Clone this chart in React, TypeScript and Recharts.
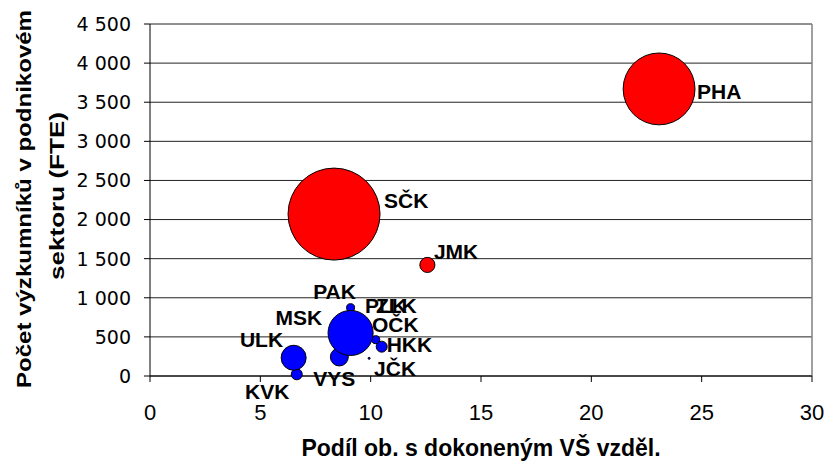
import React from 'react';
import { ScatterChart, Scatter, XAxis, YAxis, ZAxis, CartesianGrid, ReferenceLine, Label } from 'recharts';

// Red series (regions with large business R&D)
const redRegions = ['JMK', 'PHA', 'SČK'];
const redShare = [12.57, 23.07, 8.34];
const redResearchers = [1420, 3670, 2070];
const redSize = [2.7, 61, 100];

// Blue series (other regions), smaller bubbles drawn first
const blueRegions = ['JČK', 'PLK', 'ZLK', 'PAK', 'OČK', 'KVK', 'HKK', 'VYS', 'ULK', 'MSK'];
const blueShare = [9.93, 9.3, 9.5, 9.09, 10.23, 6.65, 10.5, 8.58, 6.51, 9.09];
const blueResearchers = [226, 650, 600, 873, 464, 22, 375, 243, 233, 550];
const blueSize = [0.05, 0.43, 0.43, 0.76, 0.76, 1.43, 1.43, 3.8, 7.4, 24];

const xTicks = [0, 5, 10, 15, 20, 25, 30];
const yTicks = [0, 500, 1000, 1500, 2000, 2500, 3000, 3500, 4000, 4500];

const xTitle = 'Podíl ob. s dokoneným VŠ vzděl.';
const yTitleLines = ['Počet výzkumníků v podnikovém', 'sektoru (FTE)'];

// label placement relative to bubble centre: [dx to text start, dy to baseline]
const labelOffsets: Record<string, [number, number]> = {
  PHA: [38, 10],
  'SČK': [50, -6],
  JMK: [6.5, -6],
  PAK: [-37.4, -8.7],
  PLK: [9.8, -12.2],
  ZLK: [16.3, -16.1],
  MSK: [-75, -8],
  'OČK': [-3.7, -7.7],
  HKK: [5, 5],
  'JČK': [5, 17.7],
  VYS: [-26, 29],
  ULK: [-53.7, -10.8],
  KVK: [-51.7, 25.2],
};

const build = (names: string[], xs: number[], ys: number[], zs: number[]) =>
  names.map((name, i) => ({ name, x: xs[i], y: ys[i], z: zs[i] }));

const redData = build(redRegions, redShare, redResearchers, redSize);
const blueData = build(blueRegions, blueShare, blueResearchers, blueSize);
const allData = [...blueData, ...redData];

const FONT = '"Liberation Sans", Arial, sans-serif';

const bubble = (color: string) => (props: any) => {
  const { cx, cy, width } = props;
  const r = Math.max((width || 0) / 2, 0.8);
  return <circle cx={cx} cy={cy} r={r} fill={color} stroke="#000" strokeWidth={1} />;
};

const labelShape = (props: any) => {
  const { cx, cy } = props;
  const name = props.payload?.name ?? props.name;
  const off = labelOffsets[name] || [0, 0];
  return (
    <text x={cx + off[0]} y={cy + off[1]} fontFamily={FONT} fontWeight="bold" fontSize={21} fill="#000">
      {name}
    </text>
  );
};

const XTick = (props: any) => {
  const { x, y, payload } = props;
  return (
    <text x={x} y={y} dy="0.71em" textAnchor="middle" fontFamily={FONT} fontSize={22} fill="#000">
      {payload.value}
    </text>
  );
};

const fmt = (v: number) => (v >= 1000 ? `${Math.floor(v / 1000)} ${String(v % 1000).padStart(3, '0')}` : String(v));

const YTick = (props: any) => {
  const { x, y, payload } = props;
  return (
    <text x={x} y={y} dy="0.36em" textAnchor="end" fontFamily='"DejaVu Sans", sans-serif' fontSize={19} fill="#000">
      {fmt(payload.value)}
    </text>
  );
};

export default function App() {
  return (
    <div style={{ position: 'absolute', left: 0, top: 0, width: 829, height: 462, background: '#fff' }}>
      <ScatterChart width={829} height={462} margin={{ top: 24, right: 17, bottom: 46, left: 90 }}>
        <CartesianGrid horizontal vertical={false} stroke="#222" strokeWidth={1} />
        <ReferenceLine x={30} stroke="#808080" strokeWidth={1.5} />
        <XAxis
          type="number"
          dataKey="x"
          domain={[0, 30]}
          ticks={xTicks}
          height={40}
          tickSize={6}
          tickMargin={22}
          axisLine={{ stroke: '#000' }}
          tickLine={{ stroke: '#000' }}
          tick={<XTick />}
          interval={0}
        >
          <Label
            content={(p: any) => {
              const vb = p.viewBox || {};
              return (
                <text x={vb.x + vb.width / 2} y={456} textAnchor="middle" fontFamily={FONT} fontWeight="bold" fontSize={23} fill="#000">
                  {xTitle}
                </text>
              );
            }}
          />
        </XAxis>
        <YAxis
          type="number"
          dataKey="y"
          domain={[0, 4500]}
          ticks={yTicks}
          width={60}
          tickSize={6}
          tickMargin={13}
          axisLine={{ stroke: '#000' }}
          tickLine={{ stroke: '#000' }}
          tick={<YTick />}
          interval={0}
        >
          <Label
            content={(p: any) => {
              const vb = p.viewBox || {};
              const cy = vb.y + vb.height / 2 - 1;
              return (
                <g>
                  <text transform={`translate(31,${cy}) rotate(-90)`} textAnchor="middle" fontFamily={FONT} fontWeight="bold" fontSize={21} fill="#000" textLength={378} lengthAdjust="spacingAndGlyphs">
                    {yTitleLines[0]}
                  </text>
                  <text transform={`translate(64,${cy - 3}) rotate(-90)`} textAnchor="middle" fontFamily={FONT} fontWeight="bold" fontSize={21} fill="#000" textLength={168} lengthAdjust="spacingAndGlyphs">
                    {yTitleLines[1]}
                  </text>
                </g>
              );
            }}
          />
        </YAxis>
        <ZAxis type="number" dataKey="z" domain={[0, 100]} range={[0, Math.PI * 46 * 46]} />
        <Scatter data={blueData} shape={bubble('#0000FF')} isAnimationActive={false} />
        <Scatter data={redData} shape={bubble('#FF0000')} isAnimationActive={false} />
        <Scatter data={allData} shape={labelShape} isAnimationActive={false} />
      </ScatterChart>
    </div>
  );
}
